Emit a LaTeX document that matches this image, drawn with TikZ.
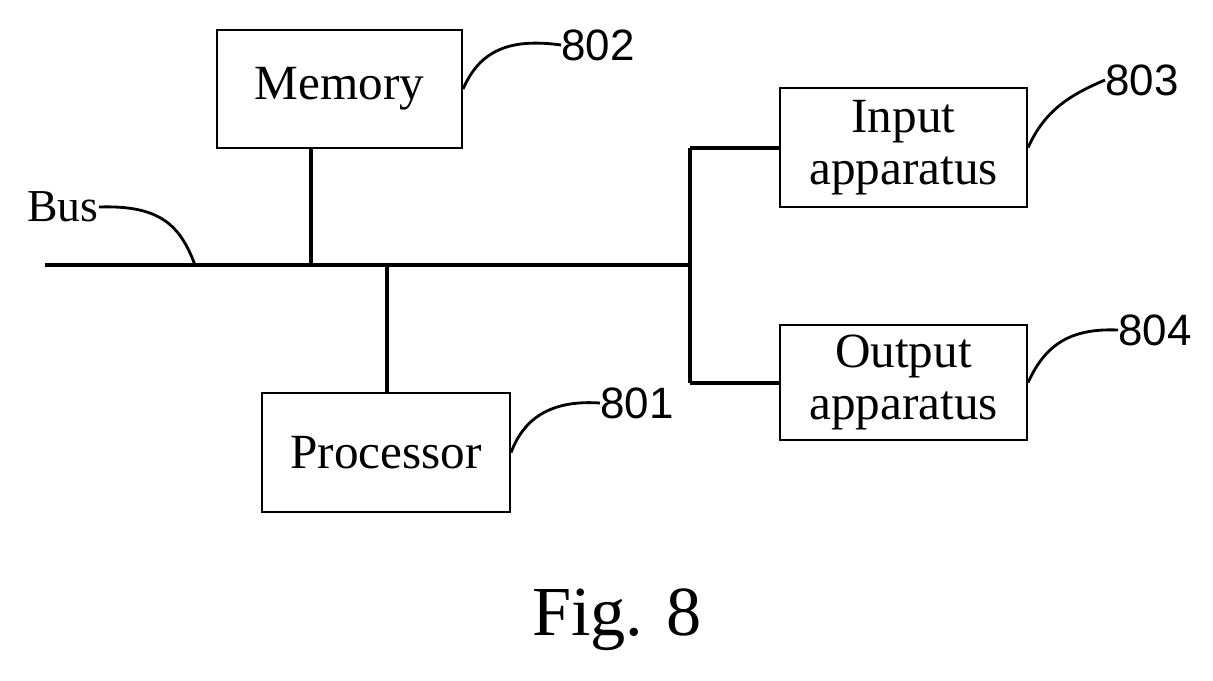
\documentclass[tikz,border=0pt]{standalone}
\usepackage{fontspec}
\setmainfont{Liberation Serif}
\newfontfamily\numfont{Liberation Sans}
\begin{document}
\begin{tikzpicture}[x=0.02cm,y=-0.02cm,
  box/.style={draw,line width=1.2pt,inner sep=0pt,font=\fontsize{28}{30}\selectfont,align=center},
  wire/.style={line width=2.2pt},
  lead/.style={line width=1.6pt},
  num/.style={font=\numfont\fontsize{25}{28}\selectfont,inner sep=0pt}]
\useasboundingbox (0,0) rectangle (1213,680);
\node[box,minimum width=245*0.02cm,minimum height=118*0.02cm] (mem) at (339.5,89) {Memory};
\node[box,minimum width=247*0.02cm,minimum height=119*0.02cm] (in) at (903.5,147.5) {Input\\apparatus};
\node[box,minimum width=247*0.02cm,minimum height=115*0.02cm] (out) at (903.5,382.5) {Output\\apparatus};
\node[box,minimum width=248*0.02cm,minimum height=119*0.02cm] (proc) at (386,452.5) {Processor};
\coordinate (bl) at (45,265);
\coordinate (br) at (690,265);
\coordinate (bm) at (311,265);
\coordinate (bp) at (387,265);
\coordinate (rt) at (690,148);
\coordinate (rb) at (690,383);
\draw[wire] (bl) -- (br);
\draw[wire] (bm) -- (bm |- mem.south);
\draw[wire] (bp) -- (bp |- proc.north);
\draw[wire] (rt) -- (rb);
\draw[wire] (rt) -- (in.west |- rt);
\draw[wire] (rb) -- (out.west |- rb);
\node[num] (n802) at (598,45) {802};
\node[num] (n803) at (1142,80) {803};
\node[num] (n804) at (1155,330) {804};
\node[num] (n801) at (637,403) {801};
\node[font=\fontsize{26}{28}\selectfont,inner sep=0pt] (bus) at (63,207) {Bus};
\draw[lead] (mem.east) .. controls (480,50) and (510,38) .. (n802.west);
\draw[lead] (in.east) .. controls (1045,110) and (1070,95) .. (n803.west);
\draw[lead] (out.east) .. controls (1045,345) and (1070,328) .. (n804.west);
\draw[lead] (proc.east) .. controls (525,415) and (555,400) .. (n801.west);
\coordinate (bt) at (195,265);
\draw[lead] (bus.east) .. controls (160,205) and (180,225) .. (bt);
\node[font=\fontsize{40}{44}\selectfont,inner sep=0pt] (fig) at (617,620) {Fig. 8};
\end{tikzpicture}
\end{document}
